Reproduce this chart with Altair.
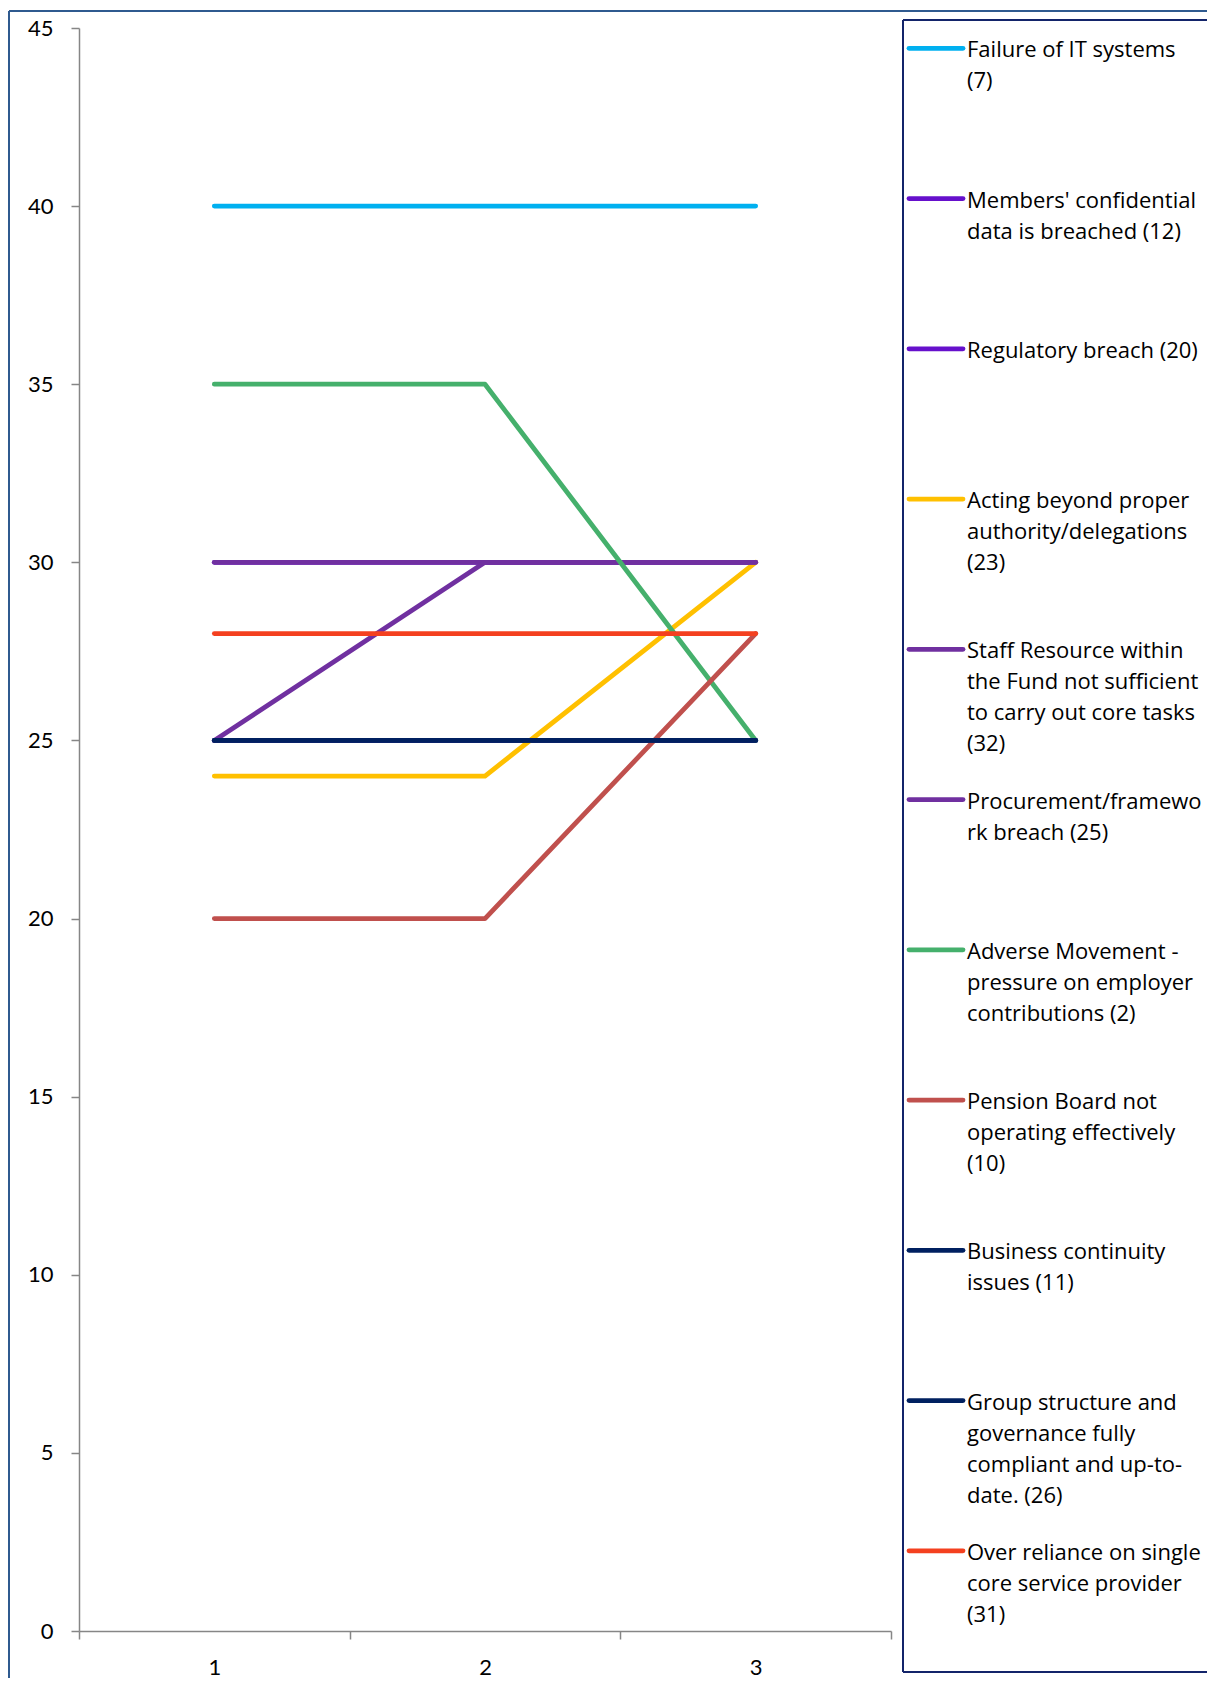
import altair as alt
import pandas as pd

# Risk register scores over three review periods
series_names = [
    "Failure of IT systems (7)",
    "Members' confidential data is breached (12)",
    "Regulatory breach (20)",
    "Acting beyond proper authority/delegations (23)",
    "Staff Resource within the Fund not sufficient to carry out core tasks (32)",
    "Procurement/framework breach (25)",
    "Adverse Movement - pressure on employer contributions (2)",
    "Pension Board not operating effectively (10)",
    "Business continuity issues (11)",
    "Group structure and governance fully compliant and up-to-date. (26)",
    "Over reliance on single core service provider (31)",
]

# wrapped legend text, one list per series
legend_lines = [
    ["Failure of IT systems", "(7)"],
    ["Members' confidential", "data is breached (12)"],
    ["Regulatory breach (20)"],
    ["Acting beyond proper", "authority/delegations", "(23)"],
    ["Staff Resource within", "the Fund not sufficient", "to carry out core tasks", "(32)"],
    ["Procurement/framewo", "rk breach (25)"],
    ["Adverse Movement -", "pressure on employer", "contributions (2)"],
    ["Pension Board not", "operating effectively", "(10)"],
    ["Business continuity", "issues (11)"],
    ["Group structure and", "governance fully", "compliant and up-to-", "date. (26)"],
    ["Over reliance on single", "core service provider", "(31)"],
]

series_colors = [
    "#00B0F0",
    "#6610CC",
    "#6610CC",
    "#FFC000",
    "#7030A0",
    "#7030A0",
    "#45B06C",
    "#C0504D",
    "#002060",
    "#002060",
    "#F4401F",
]

periods = [1, 2, 3]

scores = [
    [40, 40, 40],
    [30, 30, 30],
    [25, 25, 25],
    [24, 24, 30],
    [30, 30, 30],
    [25, 30, 30],
    [35, 35, 25],
    [20, 20, 28],
    [25, 25, 25],
    [25, 25, 25],
    [28, 28, 28],
]

y_ticks = [0, 5, 10, 15, 20, 25, 30, 35, 40, 45]

AXIS_GREY = "#868686"
FRAME_BLUE = "#2F5A8F"
LEGEND_NAVY = "#13246A"
AXIS_FONT = "Lato"
LEGEND_FONT = "Open Sans"

rows = [
    {"series": name, "period": p, "score": v}
    for name, vals in zip(series_names, scores)
    for p, v in zip(periods, vals)
]
df = pd.DataFrame(rows)

x_enc = alt.X(
    "period:O",
    sort=periods,
    bandPosition=0.5,
    scale=alt.Scale(type="band", paddingInner=0, paddingOuter=0),
    axis=alt.Axis(
        title=None,
        labelAngle=0,
        tickBand="extent",
        grid=False,
        domainColor=AXIS_GREY,
        domainWidth=1.5,
        tickColor=AXIS_GREY,
        tickWidth=1.5,
        tickSize=8,
        labelPadding=18,
        labelFont=AXIS_FONT,
        labelFontSize=22,
        labelColor="black",
    ),
)
y_enc = alt.Y(
    "score:Q",
    scale=alt.Scale(domain=[0, 45], nice=False),
    axis=alt.Axis(
        title=None,
        values=y_ticks,
        grid=False,
        domainColor=AXIS_GREY,
        domainWidth=1.5,
        tickColor=AXIS_GREY,
        tickWidth=1.5,
        tickSize=8,
        labelPadding=18,
        labelFont=AXIS_FONT,
        labelFontSize=22,
        labelColor="black",
    ),
)

# one layer per series so later series are drawn on top
line_layers = [
    alt.Chart(df)
    .transform_filter(alt.datum.series == name)
    .mark_line(strokeWidth=4.8, strokeCap="round", strokeJoin="round", color=col)
    .encode(x=x_enc, y=y_enc)
    for name, col in zip(series_names, series_colors)
]

frame = pd.DataFrame({"k": [0]})
outer_left = alt.Chart(frame).mark_rule(color=FRAME_BLUE, strokeWidth=2).encode(
    x=alt.value(-70), y=alt.value(-17), y2=alt.value(1650)
)
outer_top = alt.Chart(frame).mark_rule(color=FRAME_BLUE, strokeWidth=2).encode(
    x=alt.value(-70), x2=alt.value(1128), y=alt.value(-17)
)

main = alt.layer(*line_layers, outer_left, outer_top).properties(width=812, height=1603)

# legend panel
leg_df = pd.DataFrame(
    {
        "idx": list(range(len(series_names))),
        "label": ["|".join(l) for l in legend_lines],
        "color": series_colors,
    }
)
leg_base = alt.Chart(leg_df).encode(
    y=alt.Y(
        "idx:O",
        scale=alt.Scale(type="point", padding=0.471, align=0.1435),
        axis=None,
    )
)
symbols = leg_base.mark_rule(strokeWidth=4.8, strokeCap="round").encode(
    x=alt.value(6), x2=alt.value(60), color=alt.Color("color:N", scale=None)
)
labels = (
    leg_base.transform_calculate(lines="split(datum.label, '|')")
    .mark_text(
        align="left",
        baseline="middle",
        font=LEGEND_FONT,
        fontSize=22,
        lineHeight=31,
        dy=2,
        color="black",
        clip=True,
    )
    .encode(x=alt.value(64), text="lines:N")
)
box_left = alt.Chart(frame).mark_rule(color=LEGEND_NAVY, strokeWidth=2).encode(
    x=alt.value(0), y=alt.value(-8), y2=alt.value(1644)
)
box_top = alt.Chart(frame).mark_rule(color=LEGEND_NAVY, strokeWidth=2).encode(
    x=alt.value(0), x2=alt.value(304), y=alt.value(-8)
)
box_bottom = alt.Chart(frame).mark_rule(color=LEGEND_NAVY, strokeWidth=2).encode(
    x=alt.value(0), x2=alt.value(304), y=alt.value(1644)
)

legend = alt.layer(box_left, box_top, box_bottom, symbols, labels).properties(
    width=305, height=1644
)

chart = (
    alt.hconcat(main, legend, spacing=12, bounds="flush")
    .properties(padding={"left": 8, "top": 10, "right": 0, "bottom": 0})
    .configure_view(strokeWidth=0)
)

chart.save("out.html", embed_options={"renderer": "svg", "actions": False})
